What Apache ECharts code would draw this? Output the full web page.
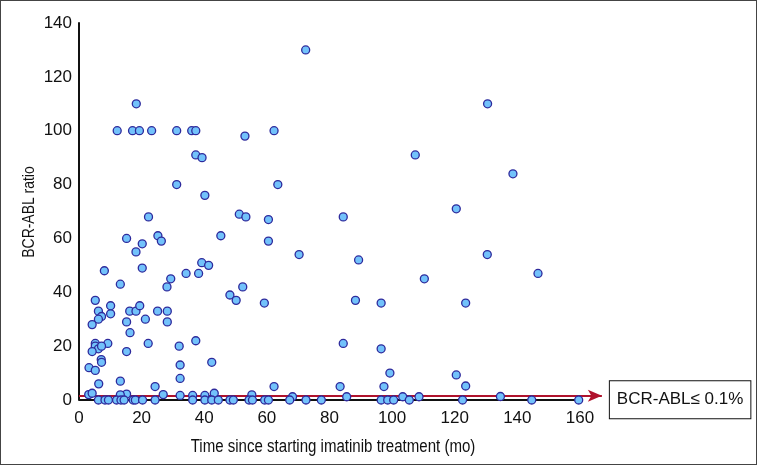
<!DOCTYPE html>
<html><head><meta charset="utf-8">
<script src="https://cdn.jsdelivr.net/npm/echarts@6/dist/echarts.min.js"></script>
<style>
html,body{margin:0;padding:0;background:#fff;}
#c{width:762px;height:469px;position:absolute;left:0;top:0;}
#frame{position:absolute;left:0;top:0;width:755px;height:463px;border:1.5px solid #444;pointer-events:none;}
</style>
</head><body><div id="c"></div><div id="frame"></div>
<script>
// Time since starting imatinib treatment (months)
const timeMonths = [
  18.3, 12.2, 17.1, 19.3, 23.2, 31.2, 36.0, 37.3, 37.3, 39.3,
  31.2, 40.2, 53.0, 62.3, 63.5, 72.4, 130.5, 107.4, 138.6, 120.5,
  22.2, 51.2, 53.3, 15.2, 25.2, 26.3, 20.2, 45.3, 18.2, 8.1,
  20.2, 39.2, 41.4, 34.2, 38.2, 29.3, 28.1, 13.2, 52.3, 48.2,
  50.2, 5.2, 6.2, 7.2, 6.2, 4.2, 10.1, 10.1, 16.2, 18.2,
  19.4, 15.2, 16.3, 21.2, 25.1, 28.2, 28.2, 9.2, 5.2, 5.2,
  6.2, 4.2, 7.2, 7.1, 7.2, 3.2, 5.2, 6.3, 13.2, 24.3,
  22.1, 32.0, 37.3, 32.3, 32.3, 42.4, 15.2, 60.5, 60.5, 70.3,
  84.4, 89.3, 59.2, 88.3, 96.5, 84.4, 96.5, 99.3, 62.3, 83.4,
  97.4, 130.4, 146.6, 110.3, 123.5, 120.5, 123.5,
  3.1, 4.2, 15.2, 13.2, 26.9, 32.3, 36.3, 40.2, 43.2, 55.2,
  68.2, 85.5, 103.4, 108.6, 134.6,
  6.2, 8.3, 9.4, 12.0, 13.4, 14.4, 17.3, 18.0, 20.3, 24.3,
  36.3, 40.2, 42.4, 44.5, 48.2, 49.3, 54.3, 55.4, 59.3, 60.5,
  67.3, 72.5, 77.4, 96.5, 98.6, 100.5, 105.5, 122.5, 144.6, 159.6
];
// BCR-ABL ratio
const bcrAblRatio = [
  110, 100, 100, 100, 100, 100, 100, 100, 91, 90,
  80, 76, 98, 100, 80, 130, 110, 91, 84, 71,
  68, 69, 68, 60, 61, 59, 58, 61, 55, 48,
  49, 51, 50, 47, 47, 45, 42, 43, 42, 39,
  37, 37, 33, 31, 30, 28, 35, 32, 33, 33,
  35, 29, 25, 30, 33, 33, 29, 21, 21, 20,
  19, 18, 20, 15, 14, 12, 11, 6, 7, 5,
  21, 20, 22, 13, 8, 14, 18, 67, 59, 54,
  68, 52, 36, 37, 36, 21, 19, 10, 5, 5,
  5, 54, 47, 45, 36, 9.3, 5.2,
  2.0, 2.5, 2.2, 1.9, 2.0, 1.7, 1.7, 1.7, 2.5, 1.9,
  1.2, 1.2, 1.2, 1.2, 1.3,
  0, 0, 0, 0, 0, 0, 0, 0, 0, 0,
  0, 0, 0, 0, 0, 0, 0, 0, 0, 0,
  0, 0, 0, 0, 0, 0, 0, 0, 0, 0
];
const xTickLabels = [0, 20, 40, 60, 80, 100, 120, 140, 160];
const yTickLabels = [0, 20, 40, 60, 80, 100, 120, 140];
const thresholdValue = 1.6;
const thresholdEnd = 167;
const thresholdLabel = 'BCR-ABL\u2264 0.1%';
const xTitle = 'Time since starting imatinib treatment (mo)';
const yTitle = 'BCR-ABL ratio';

const points = timeMonths.map((t, i) => [t, bcrAblRatio[i]]);
const xMaxTick = xTickLabels[xTickLabels.length - 1];

const chart = echarts.init(document.getElementById('c'), null, {renderer: 'canvas'});
const sans = "'Liberation Sans', Arial, sans-serif";
chart.setOption({
  animation: false,
  backgroundColor: '#fff',
  grid: {left: 79, right: 157, top: 23, bottom: 69, containLabel: false},
  xAxis: {
    type: 'value', min: 0, max: 168, interval: 20,
    axisLine: {show: false}, axisTick: {show: false}, splitLine: {show: false},
    axisLabel: {
      fontSize: 17, color: '#111', fontFamily: sans, margin: 10,
      formatter: v => xTickLabels.includes(v) ? String(v) : ''
    }
  },
  yAxis: {
    type: 'value', min: 0, max: 140, interval: 20,
    axisLine: {show: true, lineStyle: {color: '#111', width: 2}},
    axisTick: {show: false}, splitLine: {show: false},
    axisLabel: {
      fontSize: 17, color: '#111', fontFamily: sans, margin: 7,
      formatter: v => yTickLabels.includes(v) ? String(v) : ''
    }
  },
  graphic: [
    {type: 'text', x: 29, y: 212, rotation: Math.PI / 2, scaleX: 0.82,
     style: {text: yTitle, font: '17px ' + sans, fill: '#111', align: 'center', verticalAlign: 'middle'}},
    {type: 'text', x: 333, y: 447, scaleX: 0.86,
     style: {text: xTitle, font: '17.5px ' + sans, fill: '#111', align: 'center', verticalAlign: 'middle'}}
  ],
  series: [
    {
      type: 'scatter', data: [], z: 1, silent: true,
      markLine: {
        silent: true, z: 1, animation: false,
        symbol: ['none', 'none'],
        label: {show: false},
        lineStyle: {color: '#111', width: 2, type: 'solid'},
        data: [[{coord: [0, 0]}, {coord: [xMaxTick, 0]}]]
      }
    },
    {
      type: 'scatter', data: [], z: 1, silent: true,
      markLine: {
        silent: true, z: 1, animation: false,
        symbol: ['none', 'arrow'], symbolSize: [9, 14],
        lineStyle: {color: '#b0122c', width: 2, type: 'solid'},
        label: {
          show: true, position: 'end', distance: 8, formatter: thresholdLabel, offset: [0, 4],
          color: '#111', fontSize: 17, fontFamily: sans,
          borderColor: '#111', borderWidth: 1, padding: [10, 7, 10, 7], backgroundColor: '#fff'
        },
        data: [[{coord: [0, thresholdValue]}, {coord: [thresholdEnd, thresholdValue]}]]
      }
    },
    {
      type: 'scatter', data: points, z: 3, symbol: 'circle', symbolSize: 8,
      itemStyle: {color: '#72c2fb', borderColor: '#2e2a9c', borderWidth: 1.3, opacity: 1}
    }
  ]
});
</script>
</body></html>
